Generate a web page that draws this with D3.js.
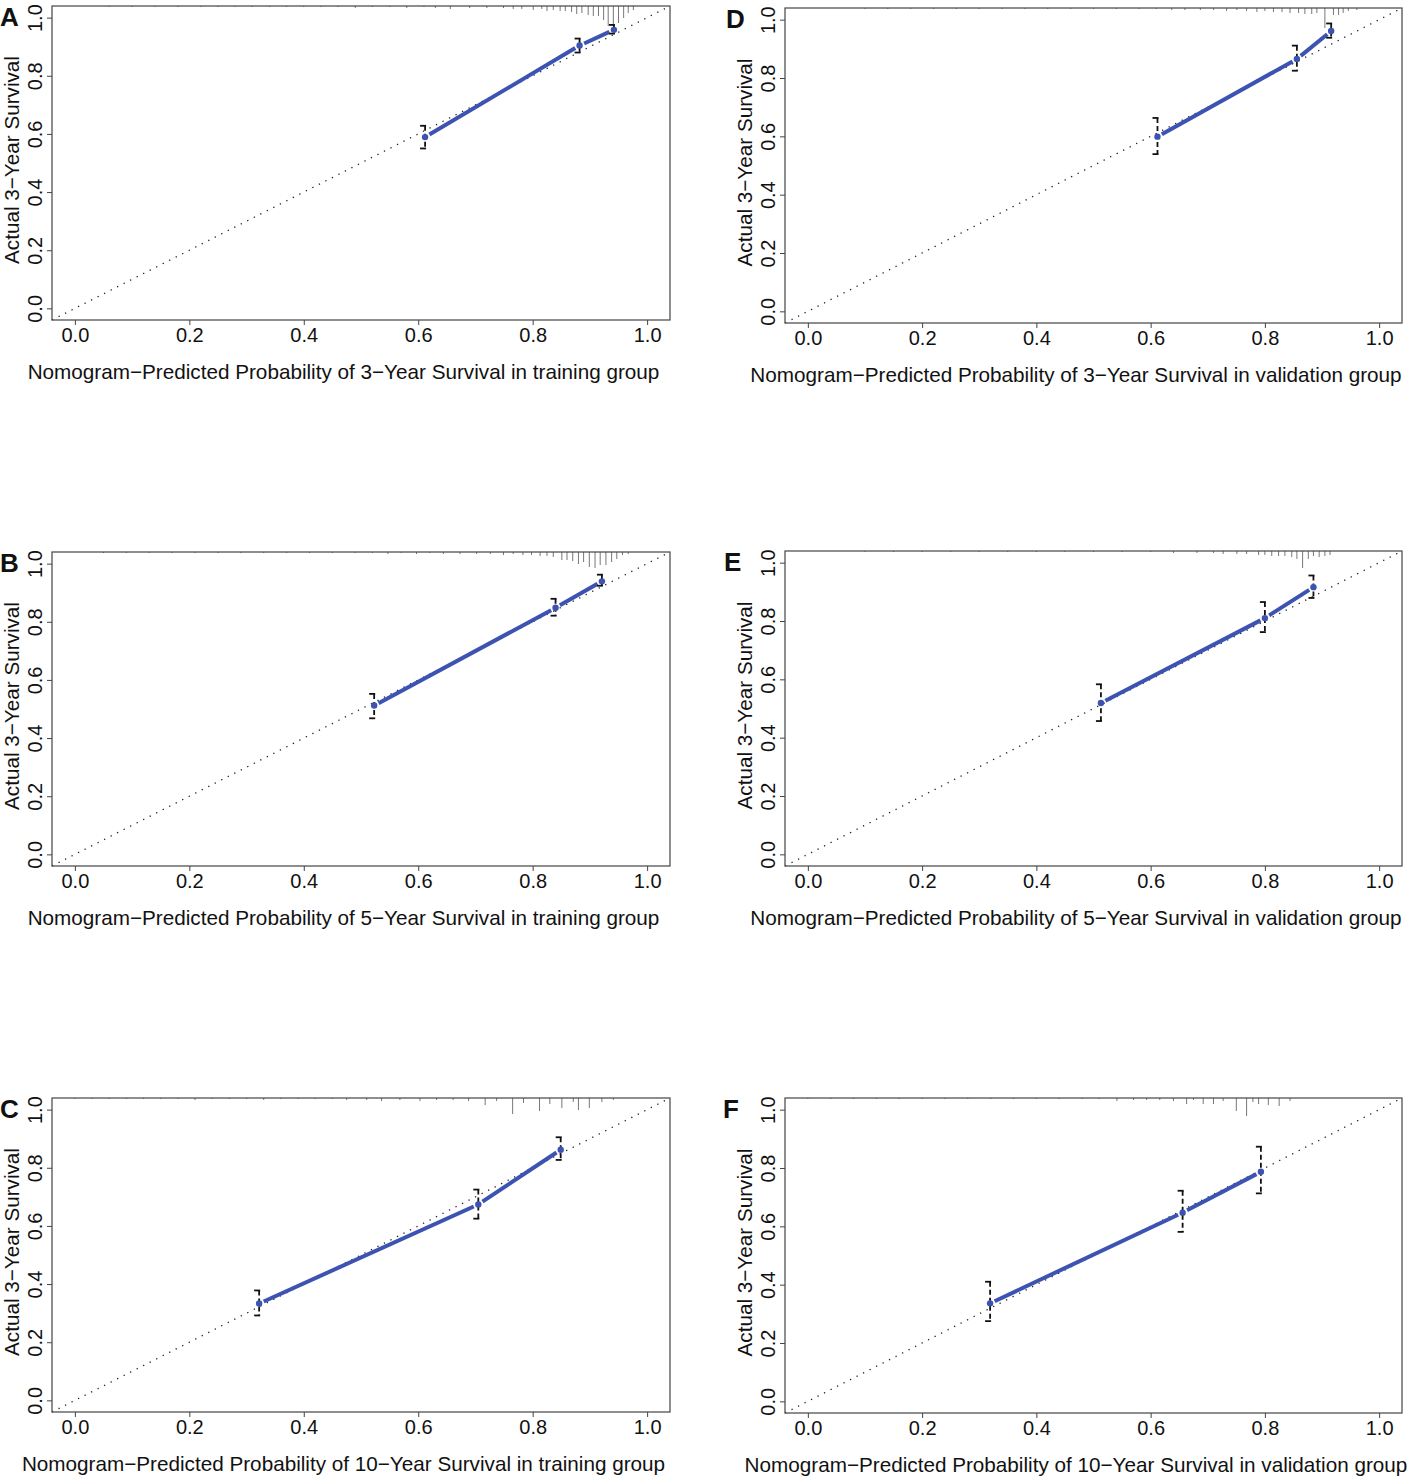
<!DOCTYPE html>
<html>
<head>
<meta charset="utf-8">
<script src="https://cdn.jsdelivr.net/npm/d3@7"></script>
<style>
  body { margin: 0; background: #fff; }
  text { font-family: "Liberation Sans", Arial, sans-serif; fill: #111; }
</style>
</head>
<body>
<div id="calib"></div>
<script>
// panel letters and axis titles
var letters = ['A', 'B', 'C', 'D', 'E', 'F']
var yTitle = 'Actual 3\u2212Year Survival'
var xTitles = [
  'Nomogram\u2212Predicted Probability of 3\u2212Year Survival in training group',
  'Nomogram\u2212Predicted Probability of 5\u2212Year Survival in training group',
  'Nomogram\u2212Predicted Probability of 10\u2212Year Survival in training group',
  'Nomogram\u2212Predicted Probability of 3\u2212Year Survival in validation group',
  'Nomogram\u2212Predicted Probability of 5\u2212Year Survival in validation group',
  'Nomogram\u2212Predicted Probability of 10\u2212Year Survival in validation group'
]
var tickLabels = ['0.0', '0.2', '0.4', '0.6', '0.8', '1.0']
var tickValues = [0, 0.2, 0.4, 0.6, 0.8, 1.0]

// calibration points: predicted, observed, lower and upper CI
var predA = [0.612, 0.882, 0.942], obsA = [0.589, 0.904, 0.958], loA = [0.55, 0.88, 0.945], hiA = [0.628, 0.928, 0.975]
var predB = [0.523, 0.840, 0.921], obsB = [0.512, 0.848, 0.939], loB = [0.468, 0.821, 0.924], hiB = [0.552, 0.879, 0.962]
var predC = [0.322, 0.705, 0.849], obsC = [0.333, 0.674, 0.862], loC = [0.292, 0.625, 0.827], hiC = [0.378, 0.725, 0.905]
var predD = [0.612, 0.856, 0.916], obsD = [0.599, 0.865, 0.961], loD = [0.539, 0.825, 0.938], hiD = [0.663, 0.911, 0.987]
var predE = [0.513, 0.800, 0.885], obsE = [0.519, 0.810, 0.916], loE = [0.457, 0.762, 0.879], hiE = [0.583, 0.865, 0.956]
var predF = [0.319, 0.656, 0.793], obsF = [0.336, 0.647, 0.787], loF = [0.275, 0.581, 0.713], hiF = [0.41, 0.722, 0.873]

// distribution of predicted values (rug at the top): position and count
var rugAx = [0.06,0.1,0.14,0.18,0.22,0.25,0.28,0.31,0.34,0.37,0.40,0.43,0.46,0.49,0.52,0.55,0.58,0.61,0.63,0.656,0.69,0.72,0.749,0.766,0.781,0.801,0.816,0.825,0.836,0.848,0.857,0.868,0.877,0.886,0.897,0.906,0.915,0.924,0.932,0.941,0.950,0.959,0.967,0.976]
var rugAn = [1,1,1,1,1,1,1,1,1,1,1,1,1,2,1,1,2,1,2,3,2,2,2,3,3,4,3,5,4,5,5,6,8,7,9,10,10,14,20,20,17,12,7,4]
var rugBx = [0.05,0.09,0.13,0.17,0.21,0.25,0.29,0.33,0.37,0.41,0.45,0.49,0.52,0.547,0.57,0.597,0.62,0.644,0.673,0.702,0.726,0.749,0.766,0.783,0.798,0.813,0.825,0.836,0.851,0.860,0.870,0.880,0.889,0.899,0.909,0.918,0.928,0.938,0.947,0.957,0.967]
var rugBn = [1,1,1,1,1,1,1,1,1,1,1,1,1,2,1,2,1,2,2,2,2,3,2,3,3,4,4,5,8,8,9,12,10,15,16,13,13,10,7,3,2]
var rugCx = [0.0,0.03,0.06,0.09,0.12,0.15,0.18,0.21,0.24,0.27,0.3,0.33,0.36,0.39,0.42,0.45,0.475,0.51,0.536,0.568,0.603,0.632,0.661,0.688,0.717,0.737,0.765,0.784,0.812,0.83,0.851,0.871,0.88,0.899,0.921,0.941]
var rugCn = [1,1,1,1,1,1,1,2,1,1,1,2,1,1,1,1,2,2,3,2,3,2,2,3,7,3,16,5,13,6,10,4,12,10,4,2]
var rugDx = [0.1,0.14,0.18,0.22,0.26,0.3,0.34,0.38,0.42,0.46,0.5,0.54,0.58,0.61,0.637,0.660,0.687,0.710,0.733,0.751,0.768,0.786,0.800,0.815,0.830,0.844,0.859,0.870,0.882,0.891,0.905,0.920,0.929,0.937,0.946,0.961]
var rugDn = [1,1,1,1,1,1,1,1,1,1,1,1,1,1,2,2,2,2,3,2,3,4,3,4,4,5,5,6,6,5,20,7,7,5,3,2]
var rugEx = [0.1,0.15,0.2,0.25,0.3,0.35,0.4,0.45,0.5,0.55,0.6,0.64,0.681,0.710,0.727,0.751,0.768,0.789,0.800,0.812,0.824,0.835,0.847,0.856,0.866,0.876,0.885,0.895,0.905,0.914]
var rugEn = [1,1,1,1,1,1,1,1,1,1,1,2,2,2,3,3,3,4,4,5,5,5,6,8,17,8,5,6,5,4]
var rugFx = [0.0,0.04,0.08,0.12,0.16,0.2,0.24,0.28,0.32,0.36,0.4,0.44,0.48,0.51,0.541,0.570,0.593,0.616,0.640,0.663,0.675,0.692,0.710,0.727,0.750,0.768,0.779,0.789,0.806,0.825,0.844]
var rugFn = [1,1,1,1,1,1,1,1,1,1,1,1,1,1,3,2,2,2,3,6,2,6,6,3,13,18,4,6,7,8,3]

var panels = [
  {pred: predA, obs: obsA, lo: loA, hi: hiA, rx: rugAx, rn: rugAn},
  {pred: predB, obs: obsB, lo: loB, hi: hiB, rx: rugBx, rn: rugBn},
  {pred: predC, obs: obsC, lo: loC, hi: hiC, rx: rugCx, rn: rugCn},
  {pred: predD, obs: obsD, lo: loD, hi: hiD, rx: rugDx, rn: rugDn},
  {pred: predE, obs: obsE, lo: loE, hi: hiE, rx: rugEx, rn: rugEn},
  {pred: predF, obs: obsF, lo: loF, hi: hiF, rx: rugFx, rn: rugFn}
]

// box position of each panel [left, right, top, bottom] and where the letter goes
var boxes = [[52, 670, 6, 320], [52, 670, 552, 866], [52, 670, 1098, 1412],
             [785, 1402, 8, 323], [785, 1402, 551, 866], [785, 1402, 1098, 1413]]
var letterX = [0, 0, 0, 726, 724, 723]

var blue = '#3d53b1'
var font = '"Liberation Sans", Arial, sans-serif'

var svg = d3.select('#calib')
            .append('svg')
            .attr('width', 1410)
            .attr('height', 1479)

for (var p = 0; p < panels.length; p++) {
  var d = panels[p], b = boxes[p]
  var x = d3.scaleLinear().domain([-0.04, 1.04]).range([b[0], b[1]])
  var y = d3.scaleLinear().domain([-0.04, 1.04]).range([b[3], b[2]])
  var rugLen = d3.scaleLinear().domain([0, 1]).range([0, 1])
  var g = svg.append('g')

  // axes with R style labels
  var xa = g.append('g').attr('transform', 'translate(0,' + b[3] + ')')
    .call(d3.axisBottom(x).tickValues(tickValues).tickSize(5).tickFormat(function(v, i){ return tickLabels[i] }))
  xa.select('.domain').remove()
  xa.selectAll('line').attr('stroke', '#444')
  xa.selectAll('text').attr('font-size', '20px').attr('dy', null).attr('y', 22)
    .style('font-family', font)

  var ya = g.append('g').attr('transform', 'translate(' + b[0] + ',0)')
    .call(d3.axisLeft(y).tickValues(tickValues).tickSize(5).tickFormat(function(v, i){ return tickLabels[i] }))
  ya.select('.domain').remove()
  ya.selectAll('line').attr('stroke', '#444')
  ya.selectAll('text').attr('font-size', '20px')
    .attr('x', null).attr('dy', null)
    .attr('text-anchor', 'middle')
    .attr('transform', 'translate(-10,0) rotate(-90)')
    .style('font-family', font)

  // rug of predicted values hanging from the top
  g.selectAll('.rug').data(d.rx).enter().append('line')
    .attr('x1', function(v){ return x(v) })
    .attr('x2', function(v){ return x(v) })
    .attr('y1', b[2])
    .attr('y2', function(v, i){ return b[2] + rugLen(d.rn[i]) })
    .attr('stroke', '#777')
    .attr('stroke-width', 1)

  // ideal line
  g.append('line')
    .attr('x1', x(-0.04)).attr('y1', y(-0.04))
    .attr('x2', x(1.04)).attr('y2', y(1.04))
    .attr('stroke', '#222')
    .attr('stroke-width', 1.3)
    .attr('stroke-dasharray', '1.3,6')

  // calibration line, type "b" so it stops short of the points
  for (var k = 0; k < d.pred.length - 1; k++) {
    var x1 = x(d.pred[k]), y1 = y(d.obs[k]), x2 = x(d.pred[k+1]), y2 = y(d.obs[k+1])
    var len = Math.sqrt((x2-x1)*(x2-x1) + (y2-y1)*(y2-y1)), gap = 5
    g.append('line')
      .attr('x1', x1 + (x2-x1)*gap/len).attr('y1', y1 + (y2-y1)*gap/len)
      .attr('x2', x2 - (x2-x1)*gap/len).attr('y2', y2 - (y2-y1)*gap/len)
      .attr('stroke', blue)
      .attr('stroke-width', 4)
  }

  // error bars
  for (var k = 0; k < d.pred.length; k++) {
    var cx = x(d.pred[k])
    g.append('line')
      .attr('x1', cx).attr('x2', cx)
      .attr('y1', y(d.hi[k])).attr('y2', y(d.lo[k]))
      .attr('stroke', '#111').attr('stroke-width', 1.8)
      .attr('stroke-dasharray', '5,3')
    g.append('line')
      .attr('x1', cx - 5).attr('x2', cx + 1)
      .attr('y1', y(d.hi[k])).attr('y2', y(d.hi[k]))
      .attr('stroke', '#111').attr('stroke-width', 1.8)
    g.append('line')
      .attr('x1', cx - 5).attr('x2', cx + 1)
      .attr('y1', y(d.lo[k])).attr('y2', y(d.lo[k]))
      .attr('stroke', '#111').attr('stroke-width', 1.8)
    g.append('circle')
      .attr('cx', cx).attr('cy', y(d.obs[k]))
      .attr('r', 3.2)
      .attr('fill', blue)
  }

  // box
  g.append('rect')
    .attr('x', b[0]).attr('y', b[2])
    .attr('width', b[1] - b[0]).attr('height', b[3] - b[2])
    .attr('fill', 'none')
    .attr('stroke', '#444')
    .attr('stroke-width', 1.2)

  // titles
  g.append('text')
    .attr('x', (b[0] + b[1]) / 2 - 17.5)
    .attr('y', b[3] + 59)
    .attr('text-anchor', 'middle')
    .attr('font-size', '20.7px')
    .text(xTitles[p])

  g.append('text')
    .attr('transform', 'translate(' + (b[0] - 33) + ',' + ((b[2] + b[3]) / 2 - 3) + ') rotate(-90)')
    .attr('text-anchor', 'middle')
    .attr('font-size', '20.7px')
    .text(yTitle)

  g.append('text')
    .attr('x', letterX[p])
    .attr('y', b[2] + 20)
    .attr('font-size', '26px')
    .attr('font-weight', 'bold')
    .text(letters[p])
}
</script>
</body>
</html>
